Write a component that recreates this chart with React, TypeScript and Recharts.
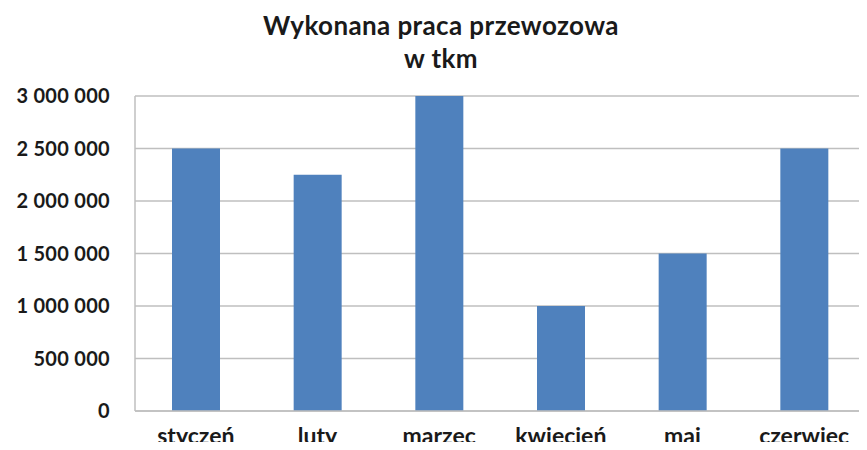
import React from 'react';
import { BarChart, Bar, XAxis, YAxis, CartesianGrid } from 'recharts';

const months = ['styczeń', 'luty', 'marzec', 'kwiecień', 'maj', 'czerwiec'];
const tkm = [2500000, 2250000, 3000000, 1000000, 1500000, 2500000];
const yTicks = [0, 500000, 1000000, 1500000, 2000000, 2500000, 3000000];

const data = months.map((m, i) => ({ month: m, value: tkm[i] }));

const fmt = (v: number) => v.toString().replace(/\B(?=(\d{3})+(?!\d))/g, ' ');

const font = 'Lato, "Open Sans", sans-serif';
const grey = '#BFBFBF';

export default function App() {
  return (
    <div style={{ position: 'relative', width: 867, height: 450, margin: -8, background: '#fff', fontFamily: font }}>
      <div style={{ position: 'absolute', left: 0, top: 4, width: 9, height: 2, background: '#222' }} />
      <div
        style={{
          position: 'absolute', left: 191, top: 9, width: 500, textAlign: 'center',
          fontSize: 26, fontWeight: 700, lineHeight: '33px', color: '#1a1a1a', letterSpacing: 0.4,
        }}
      >
        Wykonana praca przewozowa
        <br />
        w tkm
      </div>
      <BarChart
        width={867}
        height={450}
        data={data}
        margin={{ top: 96, right: 2, left: 0, bottom: 0 }}
      >
        <CartesianGrid vertical={false} stroke={grey} strokeWidth={1.5} />
        <XAxis
          dataKey="month"
          stroke={grey}
          strokeWidth={1.5}
          tickLine={false}
          tickSize={0}
          tickMargin={17}
          height={39}
          interval={0}
          tick={{ fill: '#1a1a1a', fontSize: 23, fontWeight: 700, fontFamily: font }}
        />
        <YAxis
          width={135}
          domain={[0, 3000000]}
          ticks={yTicks}
          tickFormatter={fmt}
          stroke={grey}
          strokeWidth={1.5}
          tickLine={false}
          tickSize={0}
          tickMargin={25}
          tick={{ fill: '#1a1a1a', fontSize: 20, fontWeight: 700, fontFamily: font, letterSpacing: 0.3 }}
        />
        <Bar dataKey="value" fill="#4F81BD" barSize={48} isAnimationActive={false} />
      </BarChart>
    </div>
  );
}
